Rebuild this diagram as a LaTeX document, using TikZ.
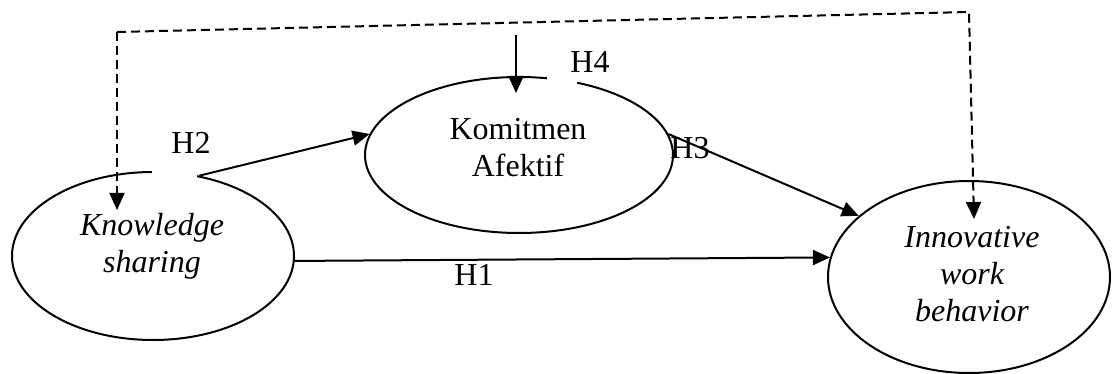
\documentclass[tikz,border=0pt]{standalone}
\usepackage{fontspec}
\setmainfont{Liberation Serif}
\usetikzlibrary{shapes.geometric,arrows.meta}
\tikzset{
  x=1pt,y=-1pt,
  oval/.style={draw,ellipse,line width=2pt,inner sep=0pt},
  lbl/.style={font=\fontsize{32}{37}\selectfont,align=center,anchor=base,inner sep=0pt},
  hyp/.style={-{Triangle[length=17pt,width=15pt]},line width=2pt},
  dhyp/.style={hyp,dash pattern=on 9pt off 5pt}
}
\begin{document}
\begin{tikzpicture}
\useasboundingbox (0,0) rectangle (1112,374);
% constructs
\node[oval,minimum width=282pt,minimum height=168pt] (ks) at (153,256) {};
\node[oval,minimum width=308pt,minimum height=156pt] (ka) at (519,155) {};
\node[oval,minimum width=282pt,minimum height=192pt] (iwb) at (969,277) {};
% gaps left by label boxes
\fill[white] (152,164) rectangle (197,184);
\fill[white] (547,68) rectangle (577,92);
% texts (anchor at baseline of last line)
\node[lbl] (kstext) at (152,273) {\itshape Knowledge\\\itshape sharing};
\node[lbl] (katext) at (518,177) {Komitmen\\Afektif};
\node[lbl] (iwbtext) at (972,322) {\itshape Innovative\\\itshape work\\\itshape behavior};
% hypotheses labels
\node[lbl] (h1) at (474,286) {H1};
\node[lbl] (h2) at (191,154) {H2};
\node[lbl] (h3) at (690,159) {H3};
\node[lbl] (h4) at (590,73) {H4};
% connectors
\draw[hyp] (ks.60) -- (ka.172);
\draw[hyp] (ks.-2) -- (iwb.172);
\draw[hyp] (ka.8) -- (iwb.151.5);
\coordinate (h4top) at (516,35);
\draw[hyp] (h4top) -- ([xshift=-3pt,yshift=-17pt]ka.north);
\coordinate (dtl) at (117,32);
\coordinate (dtr) at (969,12);
\draw[dhyp] (dtl) -- (dtr) -- ([xshift=5pt,yshift=-39pt]iwb.north);
\draw[dhyp] (dtl) -- ([xshift=-36pt,yshift=-39pt]ks.north);
\end{tikzpicture}
\end{document}
